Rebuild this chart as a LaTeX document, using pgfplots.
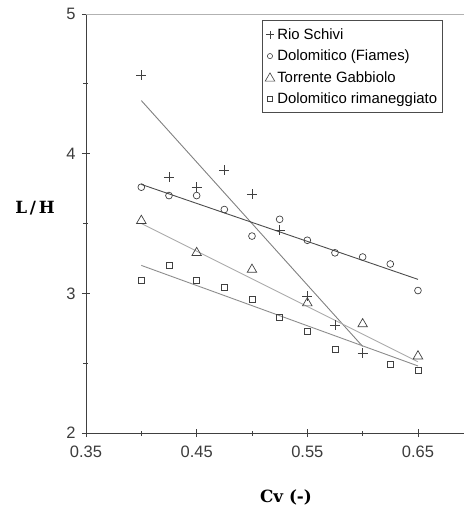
\documentclass[border=0pt]{standalone}
\usepackage{pgfplots}
\pgfplotsset{compat=1.18}
\usepackage{fontspec}
\setmainfont{Liberation Sans}
\newfontfamily\labelfont{DejaVu Serif}

\definecolor{tickcol}{HTML}{3C3C3C}
\definecolor{markcol}{HTML}{404040}

\begin{document}
\begin{tikzpicture}
\path[use as bounding box] (-86bp,-75bp) rectangle (378bp,433bp);
\begin{axis}[
  at={(0,0)}, anchor=south west,
  scale only axis,
  width=378bp, height=419bp,
  xmin=0.35, xmax=0.6916,
  ymin=2, ymax=5,
  axis x line*=bottom, axis y line*=left,
  x axis line style={-}, y axis line style={-},
  axis line style={draw=black!75, line width=0.9pt},
  xtick={0.35,0.45,0.55,0.65},
  xticklabels={0.35,0.45,0.55,0.65},
  minor xtick={0.40,0.50,0.60},
  ytick={2,3,4,5},
  minor ytick={2.5,3.5,4.5},
  tick align=center,
  major tick length=8bp, minor tick length=5bp,
  every tick/.style={black!75, line width=0.8pt},
  /pgf/number format/assume math mode=true,
  tick label style={font=\fontsize{16.5bp}{19bp}\selectfont, text=tickcol},
  xticklabel style={yshift=-5bp},
  yticklabel style={xshift=-3bp},
  xlabel={\labelfont\bfseries Cv (-)},
  ylabel={\labelfont\bfseries L\,/\,H},
  label style={font=\fontsize{16.8bp}{19bp}\selectfont},
  xlabel style={at={(axis description cs:0.529,-0.153)}, anchor=center},
  ylabel style={at={(axis description cs:-0.135,0.537)}, rotate=-90, anchor=center},
  legend style={at={(0.9444,0.985)}, anchor=north east,
    draw=black!70, line width=0.8pt,
    font=\fontsize{14.9bp}{17bp}\selectfont,
    row sep=5bp, inner xsep=3bp, inner ysep=6bp,
    nodes={inner xsep=2.5bp}},
  legend cell align=left,
  clip=false,
]
% Rio Schivi
\addplot[only marks, mark=+, mark size=5bp, markcol, line width=0.8pt,
  legend image code/.code={\draw[markcol, line width=0.7pt, mark=+, mark size=4bp] plot coordinates {(8bp,0bp)};}] coordinates {
  (0.400,4.56)(0.425,3.83)(0.450,3.76)(0.475,3.88)(0.500,3.71)
  (0.525,3.45)(0.550,2.98)(0.575,2.77)(0.600,2.57)
};
\addlegendentry{Rio Schivi}
% Dolomitico (Fiames)
\addplot[only marks, mark=o, mark size=3.4bp, markcol, line width=0.7pt,
  legend image code/.code={\draw[markcol, line width=0.6pt, mark=o, mark size=2.6bp] plot coordinates {(8bp,0bp)};}] coordinates {
  (0.400,3.76)(0.425,3.70)(0.450,3.70)(0.475,3.60)(0.500,3.41)
  (0.525,3.53)(0.550,3.38)(0.575,3.29)(0.600,3.26)(0.625,3.21)(0.650,3.02)
};
\addlegendentry{Dolomitico (Fiames)}
% Torrente Gabbiolo
\addplot[only marks, mark=triangle, mark size=5.5bp, markcol, line width=0.7pt,
  legend image code/.code={\draw[markcol, line width=0.6pt, mark=triangle, mark size=5.5bp] plot coordinates {(8bp,-1bp)};}] coordinates {
  (0.400,3.52)(0.450,3.29)(0.500,3.17)(0.550,2.93)(0.600,2.78)(0.650,2.55)
};
\addlegendentry{Torrente Gabbiolo}
% Dolomitico rimaneggiato
\addplot[only marks, mark=square, mark size=3bp, markcol, line width=0.7pt,
  legend image code/.code={\draw[markcol, line width=0.6pt, mark=square, mark size=2.4bp] plot coordinates {(8bp,0bp)};}] coordinates {
  (0.400,3.09)(0.425,3.20)(0.450,3.09)(0.475,3.04)(0.500,2.96)
  (0.525,2.83)(0.550,2.73)(0.575,2.60)(0.625,2.49)(0.650,2.45)
};
\addlegendentry{Dolomitico rimaneggiato}

% trend lines
\addplot[forget plot, no marks, black!50, line width=0.9pt] coordinates {(0.40,4.38)(0.60,2.62)};
\addplot[forget plot, no marks, black!70, line width=0.9pt] coordinates {(0.40,3.78)(0.65,3.10)};
\addplot[forget plot, no marks, black!33, line width=0.9pt] coordinates {(0.40,3.50)(0.65,2.51)};
\addplot[forget plot, no marks, black!45, line width=0.9pt] coordinates {(0.40,3.20)(0.65,2.48)};

\draw[black!30, line width=0.9pt] (rel axis cs:0,1) -- (rel axis cs:1,1);
\end{axis}
\end{tikzpicture}
\end{document}
